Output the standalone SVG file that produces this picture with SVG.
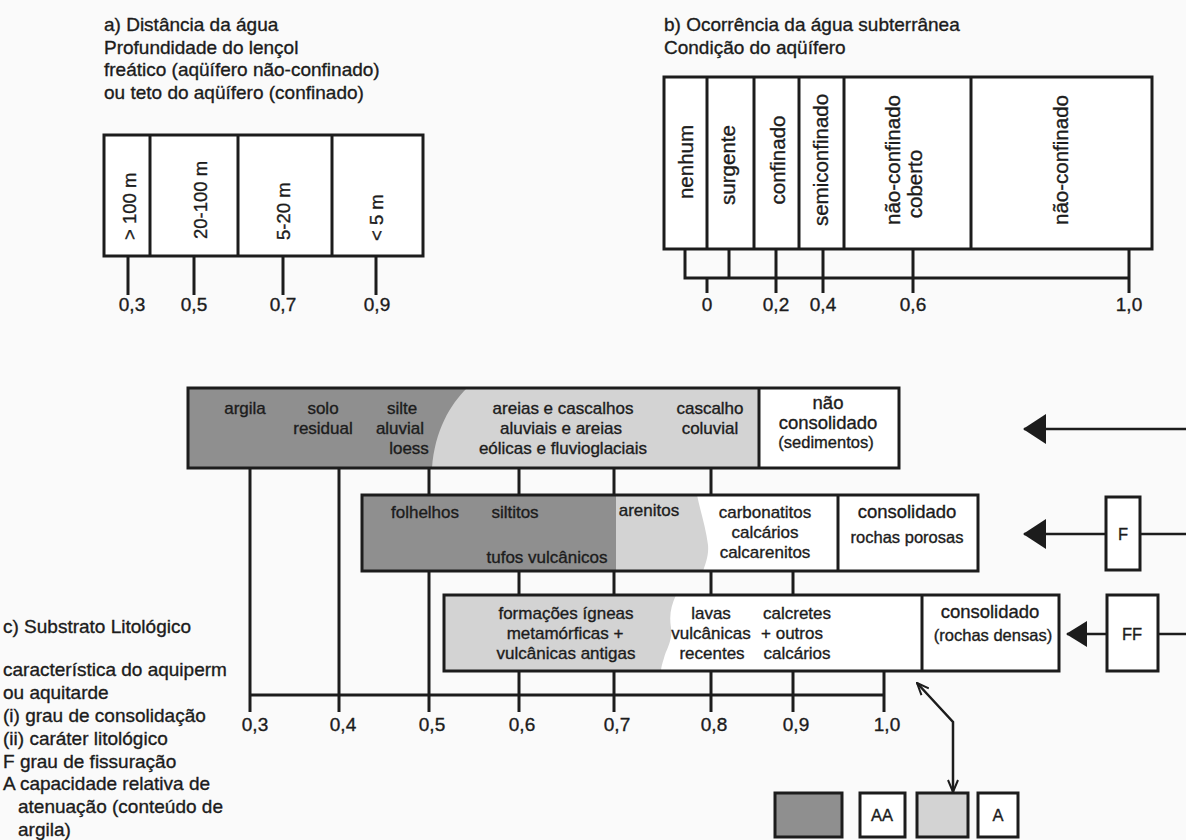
<svg xmlns="http://www.w3.org/2000/svg" width="1186" height="840" viewBox="0 0 1186 840">
<defs>
<style>
text { font-family: "Liberation Sans", Arial, sans-serif; fill: #1c1c1c; stroke: #1c1c1c; stroke-width: 0.35; }
.t { font-size: 19px; }
.ra { font-size: 18.5px; }
.rb { font-size: 20.5px; text-anchor: middle; }
.bar { font-size: 17px; text-anchor: middle; }
.head { font-size: 18.5px; text-anchor: middle; }
.sub { font-size: 16.5px; text-anchor: middle; }
.lbl { font-size: 19px; text-anchor: middle; }
.box { fill: none; stroke: #1c1c1c; stroke-width: 3; }
.wbox { fill: #ffffff; stroke: #1c1c1c; stroke-width: 3; }
.ln { stroke: #1c1c1c; stroke-width: 3; fill: none; }
.arr { stroke: #1c1c1c; stroke-width: 2.5; fill: none; }
.dark { fill: #8f8f8f; }
.light { fill: #d3d3d3; }
</style>
<marker id="tri" viewBox="0 0 23 30" refX="22" refY="15" markerWidth="23" markerHeight="30" markerUnits="userSpaceOnUse" orient="auto"><path d="M0,0 L23,15 L0,30 Z" fill="#1c1c1c"/></marker>
<marker id="tri2" viewBox="0 0 21 26" refX="20" refY="13" markerWidth="21" markerHeight="26" markerUnits="userSpaceOnUse" orient="auto"><path d="M0,0 L21,13 L0,26 Z" fill="#1c1c1c"/></marker>
<marker id="vee" viewBox="0 0 14 12" refX="13" refY="6" markerWidth="14" markerHeight="12" markerUnits="userSpaceOnUse" orient="auto-start-reverse"><path d="M1,1 L13,6 L1,11" fill="none" stroke="#1c1c1c" stroke-width="2"/></marker>
</defs>
<rect width="1186" height="840" fill="#fafafa"/>

<g id="panel-a">
<text class="t" x="104" y="31">a) Distância da água</text>
<text class="t" x="104" y="54">Profundidade do lençol</text>
<text class="t" x="104" y="76">freático (aqüífero não-confinado)</text>
<text class="t" x="104" y="99">ou teto do aqüífero (confinado)</text>
<rect class="wbox" x="104" y="135" width="319" height="121"/>
<line class="ln" x1="150" y1="135" x2="150" y2="256"/>
<line class="ln" x1="238" y1="135" x2="238" y2="256"/>
<line class="ln" x1="332" y1="135" x2="332" y2="256"/>
<text class="ra" transform="translate(136,240) rotate(-90)">&gt; 100 m</text>
<text class="ra" transform="translate(207,239) rotate(-90)">20-100 m</text>
<text class="ra" transform="translate(290,240) rotate(-90)">5-20 m</text>
<text class="ra" transform="translate(383,241) rotate(-90)">&lt; 5 m</text>
<text class="lbl" x="132" y="311">0,3</text>
<text class="lbl" x="194" y="311">0,5</text>
<text class="lbl" x="283" y="311">0,7</text>
<text class="lbl" x="377" y="311">0,9</text>
</g>

<g id="panel-b">
<text class="t" x="664" y="31">b) Ocorrência da água subterrânea</text>
<text class="t" x="664" y="54">Condição do aqüífero</text>
<rect class="wbox" x="664" y="77" width="488" height="172"/>
<line class="ln" x1="707" y1="77" x2="707" y2="249"/>
<line class="ln" x1="754" y1="77" x2="754" y2="249"/>
<line class="ln" x1="799" y1="77" x2="799" y2="249"/>
<line class="ln" x1="844" y1="77" x2="844" y2="249"/>
<line class="ln" x1="971" y1="77" x2="971" y2="249"/>
<text class="rb" transform="translate(693,162) rotate(-90)">nenhum</text>
<text class="rb" transform="translate(735,165) rotate(-90)">surgente</text>
<text class="rb" transform="translate(785,160) rotate(-90)">confinado</text>
<text class="rb" transform="translate(828,160) rotate(-90)">semiconfinado</text>
<text class="rb" transform="translate(900,160) rotate(-90)">não-confinado</text>
<text class="rb" transform="translate(922,184) rotate(-90)">coberto</text>
<text class="rb" transform="translate(1068,160) rotate(-90)">não-confinado</text>
<text class="lbl" x="707" y="311">0</text>
<text class="lbl" x="776" y="311">0,2</text>
<text class="lbl" x="823" y="311">0,4</text>
<text class="lbl" x="913" y="311">0,6</text>
<text class="lbl" x="1129" y="311">1,0</text>
</g>

<g id="bar-nao-consolidado">
<rect x="188" y="388" width="711" height="80" fill="#ffffff"/>
<path class="light" d="M188,388 H759 V468 H188 Z"/>
<path class="dark" d="M188,388 H467 C450,405 435,430 432,468 H188 Z"/>
<rect class="box" x="188" y="388" width="711" height="80"/>
<line class="ln" x1="759" y1="388" x2="759" y2="468"/>
<text class="bar" x="245" y="414">argila</text>
<text class="bar" x="323" y="414">solo</text>
<text class="bar" x="323" y="434">residual</text>
<text class="bar" x="402" y="414">silte</text>
<text class="bar" x="400" y="434">aluvial</text>
<text class="bar" x="409" y="454">loess</text>
<text class="bar" x="563" y="414">areias e cascalhos</text>
<text class="bar" x="561" y="434">aluviais e areias</text>
<text class="bar" x="563" y="454">eólicas e fluvioglaciais</text>
<text class="bar" x="710" y="414">cascalho</text>
<text class="bar" x="710" y="434">coluvial</text>
<text class="head" x="828" y="409">não</text>
<text class="head" x="828" y="429">consolidado</text>
<text class="sub" x="826" y="448">(sedimentos)</text>
</g>

<g id="bar-rochas-porosas">
<rect x="362" y="495" width="616" height="76" fill="#ffffff"/>
<path class="light" d="M616,495 H697 C700,510 706,528 708,545 C709,556 705,565 703,571 H616 Z"/>
<rect class="dark" x="362" y="495" width="254" height="76"/>
<rect class="box" x="362" y="495" width="616" height="76"/>
<line class="ln" x1="838" y1="495" x2="838" y2="571"/>
<text class="bar" x="425" y="518">folhelhos</text>
<text class="bar" x="515" y="518">siltitos</text>
<text class="bar" x="547" y="563">tufos vulcânicos</text>
<text class="bar" x="649" y="516">arenitos</text>
<text class="bar" x="765" y="518">carbonatitos</text>
<text class="bar" x="765" y="538">calcários</text>
<text class="bar" x="765" y="558">calcarenitos</text>
<text class="head" x="907" y="518">consolidado</text>
<text class="sub" x="907" y="543">rochas porosas</text>
</g>

<g id="bar-rochas-densas">
<rect x="444" y="595" width="615" height="76" fill="#ffffff"/>
<path class="light" d="M444,595 H676 C671,606 669,615 671,628 C673,640 666,650 664,658 C662,664 661,668 661,671 H444 Z"/>
<rect class="box" x="444" y="595" width="615" height="76"/>
<line class="ln" x1="922" y1="595" x2="922" y2="671"/>
<text class="bar" x="566" y="619">formações ígneas</text>
<text class="bar" x="565" y="639">metamórficas +</text>
<text class="bar" x="566" y="659">vulcânicas antigas</text>
<text class="bar" x="711" y="619">lavas</text>
<text class="bar" x="711" y="639">vulcânicas</text>
<text class="bar" x="712" y="659">recentes</text>
<text class="bar" x="797" y="619">calcretes</text>
<text class="bar" x="792" y="639">+ outros</text>
<text class="bar" x="797" y="659">calcários</text>
<text class="head" x="990" y="618">consolidado</text>
<text class="sub" x="993" y="641">(rochas densas)</text>
</g>

<g id="box-F">
<rect class="wbox" x="1106" y="497" width="34" height="73"/>
<text class="sub" x="1123" y="540">F</text>
</g>
<g id="box-FF">
<rect class="wbox" x="1107" y="595" width="51" height="76"/>
<text class="sub" x="1132" y="640">FF</text>
</g>

<g id="legend">
<rect class="dark" x="775" y="793" width="67" height="44" stroke="#1c1c1c" stroke-width="3"/>
<rect class="wbox" x="860" y="793" width="45" height="44"/>
<text class="sub" x="882" y="821">AA</text>
<rect class="light" x="917" y="793" width="51" height="44" stroke="#1c1c1c" stroke-width="3"/>
<rect class="wbox" x="978" y="793" width="40" height="44"/>
<text class="sub" x="998" y="821">A</text>
</g>

<g id="panel-c-text">
<text class="t" x="3" y="633">c) Substrato Litológico</text>
<text class="t" x="3" y="676">característica do aquiperm</text>
<text class="t" x="3" y="699">ou aquitarde</text>
<text class="t" x="3" y="722">(i) grau de consolidação</text>
<text class="t" x="3" y="745">(ii) caráter litológico</text>
<text class="t" x="3" y="768">F grau de fissuração</text>
<text class="t" x="3" y="790">A capacidade relativa de</text>
<text class="t" x="18" y="813">atenuação (conteúdo de</text>
<text class="t" x="18" y="836">argila)</text>
</g>

<g id="axis-labels">
<text class="lbl" x="255" y="731">0,3</text>
<text class="lbl" x="343" y="731">0,4</text>
<text class="lbl" x="432" y="731">0,5</text>
<text class="lbl" x="522" y="731">0,6</text>
<text class="lbl" x="617" y="731">0,7</text>
<text class="lbl" x="714" y="731">0,8</text>
<text class="lbl" x="796" y="731">0,9</text>
<text class="lbl" x="887" y="731">1,0</text>
</g>

<g id="connectors">
<line class="ln" x1="128" y1="256" x2="128" y2="295"/>
<line class="ln" x1="194" y1="256" x2="194" y2="295"/>
<line class="ln" x1="283" y1="256" x2="283" y2="295"/>
<line class="ln" x1="376" y1="256" x2="376" y2="295"/>
<path class="ln" d="M685,249 V278 H1129 M1129,249 V293 M729,249 V278 M776,249 V293 M823,249 V293 M913,249 V293 M707,278 V293"/>
<path class="ln" d="M250,468 V712 M339,468 V712 M429,468 V495 M429,571 V712 M519,468 V495 M519,571 V595 M519,671 V712 M614,468 V495 M614,571 V595 M614,671 V712 M711,468 V495 M711,571 V595 M711,671 V712 M793,571 V595 M793,671 V712 M884,671 V712 M250,695 H884"/>
<line class="arr" x1="1186" y1="429" x2="1024" y2="429" marker-end="url(#tri)"/>
<line class="arr" x1="1106" y1="534" x2="1024" y2="534" marker-end="url(#tri)"/>
<line class="arr" x1="1186" y1="534" x2="1140" y2="534"/>
<line class="arr" x1="1107" y1="634" x2="1067" y2="634" marker-end="url(#tri2)"/>
<line class="arr" x1="1186" y1="634" x2="1158" y2="634"/>
<polyline class="arr" points="917,683 953,722 953,792" stroke-width="2" marker-start="url(#vee)" marker-end="url(#vee)"/>
</g>
</svg>
